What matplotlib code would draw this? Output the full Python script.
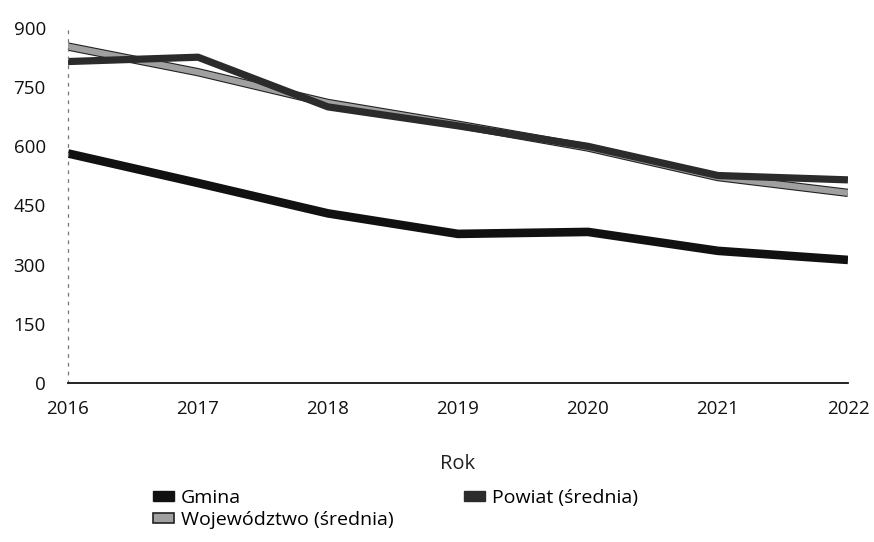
import matplotlib
matplotlib.use("Agg")
import matplotlib.pyplot as plt
import matplotlib.patheffects as pe
from matplotlib.patches import Patch

plt.rcParams['font.family'] = ['Open Sans', 'DejaVu Sans']

years = [2016, 2017, 2018, 2019, 2020, 2021, 2022]
gmina = [582, 507, 430, 378, 383, 335, 312]
powiat = [815, 826, 700, 652, 600, 526, 515]
wojewodztwo = [853, 788, 710, 655, 597, 522, 482]
yticks = [0, 150, 300, 450, 600, 750, 900]

fig = plt.figure(figsize=(8.74, 5.42), dpi=100)
ax = fig.add_axes([0.0778, 0.2934, 0.8924, 0.6549])

ax.plot(years, wojewodztwo, color='#a0a0a0', lw=4.4, solid_capstyle='butt',
        solid_joinstyle='round',
        path_effects=[pe.Stroke(linewidth=6.0, foreground='#222222'), pe.Normal()])
ax.plot(years, powiat, color='#2b2b2b', lw=5.2, solid_capstyle='butt',
        solid_joinstyle='round')
ax.plot(years, gmina, color='#111111', lw=6.2, solid_capstyle='butt',
        solid_joinstyle='round')

ax.set_xlim(2016, 2022)
ax.set_ylim(0, 900)
ax.set_xticks(years)
ax.set_yticks(yticks)
ax.tick_params(axis='both', length=0, labelsize=13.5, colors='#111111')
ax.tick_params(axis='y', pad=16)
ax.tick_params(axis='x', pad=12)
ax.set_xlabel('Rok', fontsize=14.5, labelpad=26, color='#222222')

for s in ['top', 'right']:
    ax.spines[s].set_visible(False)
ax.spines['left'].set_color('#777777')
ax.spines['left'].set_linewidth(0.9)
ax.spines['left'].set_linestyle((0, (2, 5)))
ax.spines['bottom'].set_color('#111111')
ax.spines['bottom'].set_linewidth(1.3)

handles = [
    Patch(facecolor='#111111', edgecolor='#111111', label='Gmina'),
    Patch(facecolor='#a0a0a0', edgecolor='#222222', linewidth=1.2, label='Województwo (średnia)'),
    Patch(facecolor='#2b2b2b', edgecolor='#2b2b2b', label='Powiat (średnia)'),
]
fig.legend(handles=handles, ncol=2, loc='upper left', bbox_to_anchor=(0.175, 0.098),
           frameon=False, fontsize=14, handlelength=1.1, handleheight=0.45,
           handletextpad=0.35, columnspacing=3.6, labelspacing=0.2,
           borderaxespad=0, borderpad=0)

fig.savefig('out.png', dpi=100)
